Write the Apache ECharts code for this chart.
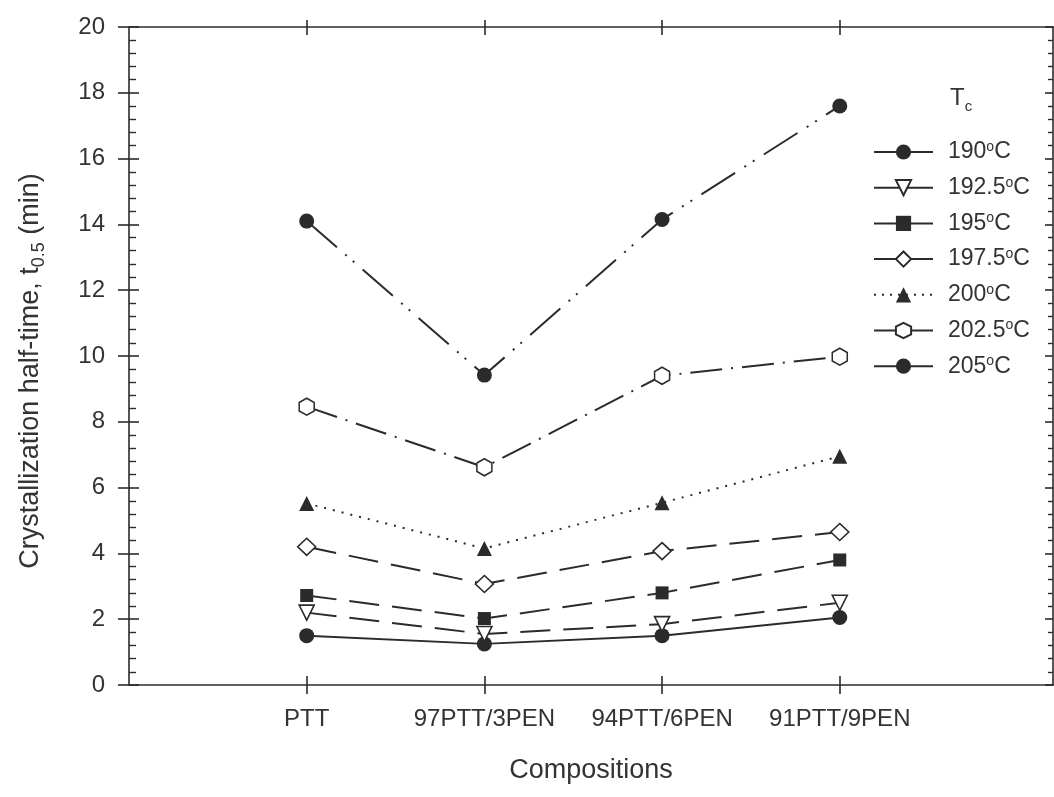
<!DOCTYPE html>
<html>
<head>
<meta charset="utf-8">
<title>Crystallization half-time vs composition</title>
<script src="https://cdn.jsdelivr.net/npm/echarts@6/dist/echarts.min.js"></script>
<style>
  html, body { margin: 0; padding: 0; background: #fff; }
  #chart { width: 1054px; height: 797px; }
</style>
</head>
<body>
<div id="chart"></div>
<script>
// Blend compositions along the x axis (placed at 1..4 on a numeric scale)
const compositions = ['PTT', '97PTT/3PEN', '94PTT/6PEN', '91PTT/9PEN'];
const positions = [1, 2, 3, 4];

// Crystallization half-time t0.5 (min) at each crystallization temperature
const t190 = [1.50, 1.25, 1.50, 2.05];
const t192_5 = [2.20, 1.55, 1.85, 2.50];
const t195 = [2.72, 2.02, 2.80, 3.80];
const t197_5 = [4.20, 3.07, 4.07, 4.65];
const t200 = [5.52, 4.15, 5.54, 6.95];
const t202_5 = [8.46, 6.62, 9.40, 9.98];
const t205 = [14.10, 9.42, 14.15, 17.60];

// Legend labels (temperatures in degrees C)
const temps = ['190', '192.5', '195', '197.5', '200', '202.5', '205'];

const INK = '#2b2b2b';
const FONT = '"Liberation Sans", Arial, Helvetica, sans-serif';

const hexagon = 'path://M0,-1 L0.866,-0.5 L0.866,0.5 L0,1 L-0.866,0.5 L-0.866,-0.5 Z';
const triDown = 'path://M-1,-0.9 L1,-0.9 L0,0.9 Z';

function pts(vals) { return vals.map((v, i) => [positions[i], v]); }

const seriesDefs = [
  { vals: t190,   symbol: 'circle',  size: 15, fill: INK,    dash: 'solid' },
  { vals: t192_5, symbol: triDown,   size: 15, fill: '#fff', dash: [30, 13] },
  { vals: t195,   symbol: 'rect',    size: 13, fill: INK,    dash: [30, 13] },
  { vals: t197_5, symbol: 'diamond', size: [18, 17], fill: '#fff', dash: [30, 13] },
  { vals: t200,   symbol: 'triangle',size: 15, fill: INK,    dash: [2, 7] },
  { vals: t202_5, symbol: hexagon,   size: [15, 17], fill: '#fff', dash: [32, 9, 2, 9] },
  { vals: t205,   symbol: 'circle',  size: 15, fill: INK,    dash: [40, 11, 2, 8, 2, 11] }
];
const legendDash = ['solid', 'solid', 'solid', 'solid', [2, 6], 'solid', 'solid'];

const series = seriesDefs.map((d, i) => ({
  name: temps[i],
  type: 'line',
  xAxisIndex: 0,
  yAxisIndex: 0,
  data: pts(d.vals),
  symbol: d.symbol,
  symbolSize: d.size,
  showAllSymbol: true,
  lineStyle: { color: INK, width: 2, type: d.dash },
  itemStyle: { color: d.fill, borderColor: INK, borderWidth: d.fill === '#fff' ? 1.6 : 0 },
  emphasis: { disabled: true },
  animation: false,
  z: 3
}));

const axisLineStyle = { color: INK, width: 1.6 };

const chart = echarts.init(document.getElementById('chart'), null, { renderer: 'canvas' });
chart.setOption({
  backgroundColor: '#fff',
  animation: false,
  grid: { left: 129, top: 27, right: 1, bottom: 112, containLabel: false },
  xAxis: [
    { // bottom axis: labels and inward ticks
      type: 'value', position: 'bottom', min: 0, max: 5.2,
      name: 'Compositions', nameLocation: 'middle', nameGap: 72,
      nameTextStyle: { fontFamily: FONT, fontSize: 27, color: '#333' },
      axisLine: { show: true, onZero: false, lineStyle: axisLineStyle },
      axisTick: { show: true, inside: true, length: 9, customValues: positions, lineStyle: axisLineStyle },
      axisLabel: {
        customValues: positions, margin: 22,
        fontFamily: FONT, fontSize: 24, color: '#333',
        formatter: v => compositions[positions.indexOf(v)] || ''
      },
      splitLine: { show: false }
    },
    { // bottom axis: outward ticks
      type: 'value', position: 'bottom', min: 0, max: 5.2,
      axisLine: { show: false, onZero: false },
      axisTick: { show: true, inside: false, length: 9, customValues: positions, lineStyle: axisLineStyle },
      axisLabel: { show: false }, splitLine: { show: false }
    },
    { // top frame: inward ticks
      type: 'value', position: 'top', min: 0, max: 5.2,
      axisLine: { show: true, onZero: false, lineStyle: axisLineStyle },
      axisTick: { show: true, inside: true, length: 8, customValues: positions, lineStyle: axisLineStyle },
      axisLabel: { show: false }, splitLine: { show: false }
    },
    { // top frame: outward ticks
      type: 'value', position: 'top', min: 0, max: 5.2,
      axisLine: { show: false, onZero: false },
      axisTick: { show: true, inside: false, length: 7, customValues: positions, lineStyle: axisLineStyle },
      axisLabel: { show: false }, splitLine: { show: false }
    }
  ],
  yAxis: [
    { // left axis: labels, inward major and minor ticks
      type: 'value', position: 'left', min: 0, max: 20, interval: 2,
      name: 'Crystallization half-time, t{sub|0.5} (min)',
      nameLocation: 'middle', nameGap: 81, nameRotate: 90,
      nameTextStyle: {
        fontFamily: FONT, fontSize: 27, color: '#333', lineHeight: 34,
        padding: [0, 30, 0, 0],
        rich: { sub: { fontFamily: FONT, fontSize: 18, color: '#333', verticalAlign: 'bottom', lineHeight: 34 } }
      },
      axisLine: { show: true, onZero: false, lineStyle: axisLineStyle },
      axisTick: { show: true, inside: true, length: 10, lineStyle: axisLineStyle },
      minorTick: { show: true, splitNumber: 5, length: 7, lineStyle: { color: INK, width: 1.4 } },
      axisLabel: { margin: 24, fontFamily: FONT, fontSize: 24, color: '#333' },
      splitLine: { show: false }, minorSplitLine: { show: false }
    },
    { // left axis: outward major ticks
      type: 'value', position: 'left', min: 0, max: 20, interval: 2,
      axisLine: { show: false, onZero: false },
      axisTick: { show: true, inside: false, length: 11, lineStyle: axisLineStyle },
      axisLabel: { show: false }, splitLine: { show: false }
    },
    { // right frame: inward major and minor ticks
      type: 'value', position: 'right', min: 0, max: 20, interval: 2,
      axisLine: { show: true, onZero: false, lineStyle: axisLineStyle },
      axisTick: { show: true, inside: true, length: 8, lineStyle: axisLineStyle },
      minorTick: { show: true, splitNumber: 5, length: 5, lineStyle: { color: INK, width: 1.4 } },
      axisLabel: { show: false }, splitLine: { show: false }, minorSplitLine: { show: false }
    }
  ],
  legend: {
    orient: 'vertical',
    left: 873, top: 140, padding: 0,
    itemWidth: 59, itemHeight: 19, itemGap: 11.7,
    selectedMode: false,
    data: temps.map((t, i) => ({ name: t, lineStyle: { type: legendDash[i], width: 2, color: INK } })),
    formatter: name => name + '{sup|o}C',
    textStyle: {
      fontFamily: FONT, fontSize: 23, color: '#333', lineHeight: 24,
      padding: [0, 0, 0, 10],
      rich: { sup: { fontFamily: FONT, fontSize: 14, color: '#333', verticalAlign: 'top', lineHeight: 14, padding: [0, 0, 6, 0] } }
    }
  },
  graphic: [
    {
      type: 'text', left: 950, top: 82, silent: true,
      style: {
        text: 'T{sub|c}', fill: '#333',
        font: '24px ' + FONT,
        rich: { sub: { fontSize: 15, fontFamily: FONT, fill: '#333', verticalAlign: 'bottom', lineHeight: 32 } },
        lineHeight: 30
      }
    }
  ],
  series: series
});
</script>
</body>
</html>
